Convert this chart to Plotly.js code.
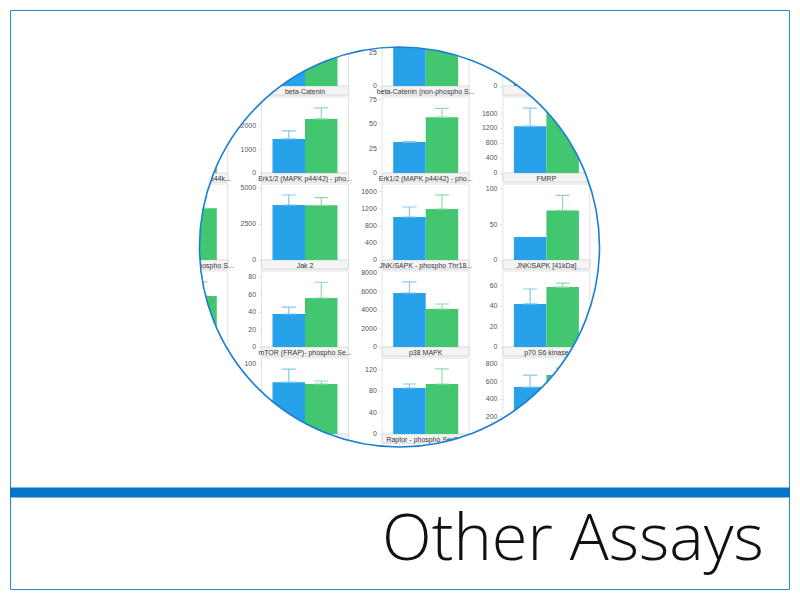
<!DOCTYPE html>
<html><head><meta charset="utf-8">
<script src="https://cdn.plot.ly/plotly-3.0.1.min.js"></script>
<style>html,body{margin:0;padding:0;background:#fff}#chart{width:800px;height:600px}</style>
</head><body><div id="chart"></div>
<script>
// ---- data (one entry per small chart) ----
const panelLabels = [
  'beta-Catenin', 'beta-Catenin (non-phospho S...', '',
  'Akt - phospho Ser473 (p44k...', 'Erk1/2 (MAPK p44/42) - pho...', 'Erk1/2 (MAPK p44/42) - pho...', 'FMRP',
  'GSK3 alpha/beta - phospho S...', 'Jak 2', 'JNK/SAPK - phospho Thr18...', 'JNK/SAPK [41kDa]',
  '', 'mTOR (FRAP)- phospho Se...', 'p38 MAPK', 'p70 S6 kinase',
  '', 'Raptor - phospho Ser792', ''
];
const blueMeans   = [55, 47, 60,   60, 1450, 31.6, 1250,   55, 3820, 1012, 32,   50, 37.7, 5840, 42,   74, 85.6, 537];
const blueErrors  = [8, 5, 10,     8, 340, 0.5, 480,       10, 695, 235, 0,      8, 8, 1190, 14.6,     18.6, 7.4, 137];
const greenMeans  = [75, 44, 70,   70, 2300, 57, 1850,     70, 3800, 1200, 69,   69, 56, 4110, 58.5,   71.4, 93, 674];
const greenErrors = [10, 6, 10,    8, 470, 9, 200,         15, 526, 330, 21,     19, 18, 540, 3.9,     4.3, 28, 80];
const axisMax     = [100, 55, 100, 100, 3150, 75.5, 1975,  100, 5140, 1741, 103, 100, 84.6, 8000, 72.2, 105.7, 137.7, 846];
const axisStep    = [25, 25, 50,   50, 1000, 25, 400,      50, 2500, 400, 50,    50, 20, 2000, 20,     50, 40, 200];
const titleText = 'Other Assays';

// ---- layout slots of each chart in the grid (row, column) ----
const panelRows = [0,0,0, 1,1,1,1, 2,2,2,2, 3,3,3,3, 4,4,4];
const panelCols = [1,2,3, 0,1,2,3, 0,1,2,3, 0,1,2,3, 1,2,3];

const W = 800, H = 600;
const BLUE = '#27a1e9', GREEN = '#42c66f', BLUE_ERR = '#86c8f2', GREEN_ERR = '#92dcab';
const colCenter = c => 184.3 + 120.7 * c;
const rowLabelY = r => 91 + 87 * r;
const px = x => x / W;
const py = y => 1 - y / H;
const pt = (x, y) => px(x).toFixed(5) + ',' + py(y).toFixed(5);
const tickFont = {family: 'Liberation Sans, Arial, sans-serif', size: 7, color: '#555555'};

const traces = [];
const layout = {
  width: W, height: H,
  margin: {l: 0, r: 0, t: 0, b: 0},
  paper_bgcolor: '#ffffff', plot_bgcolor: 'rgba(0,0,0,0)',
  barmode: 'group', bargap: 0.253, bargroupgap: 0,
  showlegend: false,
  shapes: [], annotations: []
};

panelLabels.forEach((label, i) => {
  const k = i + 1, s = k === 1 ? '' : String(k);
  const cx = colCenter(panelCols[i]);
  const ly = rowLabelY(panelRows[i]);
  const base = ly - 5, top = ly - 79;
  // frame and label box
  layout.shapes.push({type: 'rect', layer: 'below', xref: 'paper', yref: 'paper',
    x0: px(cx - 43.5), x1: px(cx + 43.5), y0: py(ly + 4), y1: py(ly - 81),
    line: {color: '#e2e2e2', width: 1}, fillcolor: 'rgba(0,0,0,0)'});
  layout.shapes.push({type: 'rect', layer: 'below', xref: 'paper', yref: 'paper',
    x0: px(cx - 43.5), x1: px(cx + 43.5), y0: py(ly + 4), y1: py(base),
    line: {color: '#d9d9d9', width: 1}, fillcolor: '#f4f4f4'});
  traces.push({type: 'bar', x: [0], y: [blueMeans[i]], xaxis: 'x' + s, yaxis: 'y' + s,
    marker: {color: BLUE, line: {width: 0}}, hoverinfo: 'skip',
    error_y: {type: 'data', symmetric: false, array: [blueErrors[i]], arrayminus: [0],
      color: BLUE_ERR, thickness: 1.2, width: 7, visible: blueErrors[i] > 0}});
  traces.push({type: 'bar', x: [0], y: [greenMeans[i]], xaxis: 'x' + s, yaxis: 'y' + s,
    marker: {color: GREEN, line: {width: 0}}, hoverinfo: 'skip',
    error_y: {type: 'data', symmetric: false, array: [greenErrors[i]], arrayminus: [0],
      color: GREEN_ERR, thickness: 1.2, width: 7, visible: greenErrors[i] > 0}});
  layout['xaxis' + s] = {domain: [px(cx - 43.5), px(cx + 43.5)], range: [-0.5, 0.5],
    anchor: 'y' + s, tickvals: [0], ticktext: [label], ticks: '', showgrid: false,
    zeroline: false, showline: false, tickfont: {...tickFont, color: '#333333'}, fixedrange: true};
  layout['yaxis' + s] = {domain: [py(base), py(top)], range: [0, axisMax[i]], dtick: axisStep[i],
    tick0: 0, anchor: 'x' + s, ticks: 'outside', ticklen: 2, tickcolor: '#e0e0e0',
    showgrid: false, zeroline: false, showline: false, tickfont: tickFont,
    ticklabelstandoff: 1, fixedrange: true};
});

// white mask with a round hole, so the grid shows only inside the circle
const cx0 = 399.5, cy0 = 247, R = 200, K = 0.5523 * R;
const maskPath =
  'M' + pt(-5, -5) + ' L' + pt(W + 5, -5) + ' L' + pt(W + 5, H + 5) + ' L' + pt(-5, H + 5) + ' Z ' +
  'M' + pt(cx0 + R, cy0) +
  ' C' + pt(cx0 + R, cy0 - K) + ' ' + pt(cx0 + K, cy0 - R) + ' ' + pt(cx0, cy0 - R) +
  ' C' + pt(cx0 - K, cy0 - R) + ' ' + pt(cx0 - R, cy0 - K) + ' ' + pt(cx0 - R, cy0) +
  ' C' + pt(cx0 - R, cy0 + K) + ' ' + pt(cx0 - K, cy0 + R) + ' ' + pt(cx0, cy0 + R) +
  ' C' + pt(cx0 + K, cy0 + R) + ' ' + pt(cx0 + R, cy0 + K) + ' ' + pt(cx0 + R, cy0) + ' Z';
layout.shapes.push({type: 'path', layer: 'above', xref: 'paper', yref: 'paper', path: maskPath,
  fillcolor: '#ffffff', line: {width: 0}});
layout.shapes.push({type: 'circle', layer: 'above', xref: 'paper', yref: 'paper',
  x0: px(cx0 - R), x1: px(cx0 + R), y0: py(cy0 + R), y1: py(cy0 - R),
  line: {color: '#1b7fd3', width: 1.6}});
layout.shapes.push({type: 'rect', layer: 'above', xref: 'paper', yref: 'paper',
  x0: px(10.5), x1: px(789.5), y0: py(589.5), y1: py(10.5),
  line: {color: '#2a86d0', width: 1}});
layout.shapes.push({type: 'rect', layer: 'above', xref: 'paper', yref: 'paper',
  x0: px(10), x1: px(790), y0: py(497.5), y1: py(487.5),
  line: {width: 0}, fillcolor: '#0674c8'});

layout.annotations.push({text: titleText, xref: 'paper', yref: 'paper',
  x: px(766), y: py(535), xanchor: 'right', yanchor: 'middle', showarrow: false,
  font: {family: 'Open Sans, sans-serif', size: 65, color: '#111111', weight: 300}});

Plotly.newPlot('chart', traces, layout, {staticPlot: true, displayModeBar: false});
</script>
</body></html>
